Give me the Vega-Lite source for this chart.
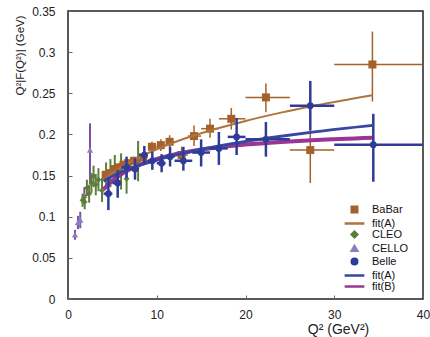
{
  "$schema": "https://vega.github.io/schema/vega-lite/v6.json",
  "width": 355,
  "height": 288,
  "autosize": "none",
  "padding": {"left": 68, "top": 11, "right": 7, "bottom": 38},
  "background": "white",
  "config": {
    "view": {"stroke": "#222", "strokeWidth": 1.5},
    "axis": {
      "domain": false, "grid": false, "tickSize": -4, "tickColor": "#666", "tickWidth": 1,
      "labelFont": "Liberation Sans", "labelFontSize": 12, "labelColor": "#222",
      "titleFont": "Liberation Sans", "titleFontWeight": "normal", "titleColor": "#222"
    },
    "legend": {
      "labelFont": "Liberation Sans", "labelFontSize": 11, "labelColor": "#111",
      "labelOffset": 12, "rowPadding": -4, "padding": 0, "symbolSize": 30, "symbolStrokeWidth": 2.5
    }
  },
  "datasets": {
    "babar": [
      {"series": "BaBar", "x": 4.24, "y": 0.151, "xlo": 4.0, "xhi": 4.5, "ylo": 0.147, "yhi": 0.155},
      {"series": "BaBar", "x": 4.74, "y": 0.153, "xlo": 4.5, "xhi": 5.0, "ylo": 0.149, "yhi": 0.157},
      {"series": "BaBar", "x": 5.24, "y": 0.158, "xlo": 5.0, "xhi": 5.5, "ylo": 0.154, "yhi": 0.162},
      {"series": "BaBar", "x": 5.74, "y": 0.160, "xlo": 5.5, "xhi": 6.0, "ylo": 0.155, "yhi": 0.165},
      {"series": "BaBar", "x": 6.24, "y": 0.163, "xlo": 6.0, "xhi": 6.5, "ylo": 0.158, "yhi": 0.168},
      {"series": "BaBar", "x": 6.74, "y": 0.165, "xlo": 6.5, "xhi": 7.0, "ylo": 0.160, "yhi": 0.170},
      {"series": "BaBar", "x": 7.45, "y": 0.168, "xlo": 7.0, "xhi": 8.0, "ylo": 0.163, "yhi": 0.173},
      {"series": "BaBar", "x": 8.46, "y": 0.172, "xlo": 8.0, "xhi": 9.0, "ylo": 0.166, "yhi": 0.178},
      {"series": "BaBar", "x": 9.46, "y": 0.185, "xlo": 9.0, "xhi": 10.0, "ylo": 0.179, "yhi": 0.191},
      {"series": "BaBar", "x": 10.46, "y": 0.187, "xlo": 10.0, "xhi": 11.0, "ylo": 0.180, "yhi": 0.194},
      {"series": "BaBar", "x": 11.45, "y": 0.191, "xlo": 11.0, "xhi": 12.0, "ylo": 0.183, "yhi": 0.199},
      {"series": "BaBar", "x": 12.8, "y": 0.175, "xlo": 12.0, "xhi": 13.5, "ylo": 0.165, "yhi": 0.185},
      {"series": "BaBar", "x": 14.2, "y": 0.198, "xlo": 13.5, "xhi": 15.0, "ylo": 0.186, "yhi": 0.211},
      {"series": "BaBar", "x": 16.0, "y": 0.207, "xlo": 15.0, "xhi": 17.0, "ylo": 0.196, "yhi": 0.219},
      {"series": "BaBar", "x": 18.4, "y": 0.219, "xlo": 17.0, "xhi": 20.0, "ylo": 0.206, "yhi": 0.232},
      {"series": "BaBar", "x": 22.3, "y": 0.245, "xlo": 20.0, "xhi": 25.0, "ylo": 0.227, "yhi": 0.262},
      {"series": "BaBar", "x": 27.3, "y": 0.181, "xlo": 25.0, "xhi": 30.0, "ylo": 0.141, "yhi": 0.221},
      {"series": "BaBar", "x": 34.3, "y": 0.285, "xlo": 30.0, "xhi": 39.9, "ylo": 0.240, "yhi": 0.325}
    ],
    "belle": [
      {"series": "Belle", "x": 4.55, "y": 0.128, "xlo": 4.0, "xhi": 5.0, "ylo": 0.108, "yhi": 0.147},
      {"series": "Belle", "x": 5.6, "y": 0.141, "xlo": 5.0, "xhi": 6.0, "ylo": 0.123, "yhi": 0.157},
      {"series": "Belle", "x": 6.6, "y": 0.160, "xlo": 6.0, "xhi": 7.0, "ylo": 0.147, "yhi": 0.173},
      {"series": "Belle", "x": 7.55, "y": 0.158, "xlo": 7.0, "xhi": 8.0, "ylo": 0.145, "yhi": 0.171},
      {"series": "Belle", "x": 8.6, "y": 0.175, "xlo": 8.0, "xhi": 9.0, "ylo": 0.164, "yhi": 0.186},
      {"series": "Belle", "x": 9.5, "y": 0.168, "xlo": 9.0, "xhi": 10.0, "ylo": 0.157, "yhi": 0.179},
      {"series": "Belle", "x": 10.55, "y": 0.165, "xlo": 10.0, "xhi": 11.0, "ylo": 0.154, "yhi": 0.176},
      {"series": "Belle", "x": 11.5, "y": 0.173, "xlo": 11.0, "xhi": 12.0, "ylo": 0.161, "yhi": 0.185},
      {"series": "Belle", "x": 13.0, "y": 0.168, "xlo": 12.0, "xhi": 14.0, "ylo": 0.156, "yhi": 0.185},
      {"series": "Belle", "x": 15.0, "y": 0.178, "xlo": 14.0, "xhi": 16.0, "ylo": 0.161, "yhi": 0.194},
      {"series": "Belle", "x": 17.0, "y": 0.183, "xlo": 16.0, "xhi": 18.0, "ylo": 0.163, "yhi": 0.203},
      {"series": "Belle", "x": 19.0, "y": 0.197, "xlo": 18.0, "xhi": 20.0, "ylo": 0.175, "yhi": 0.220},
      {"series": "Belle", "x": 22.3, "y": 0.194, "xlo": 20.0, "xhi": 25.0, "ylo": 0.173, "yhi": 0.215},
      {"series": "Belle", "x": 27.3, "y": 0.235, "xlo": 25.0, "xhi": 30.0, "ylo": 0.205, "yhi": 0.265},
      {"series": "Belle", "x": 34.4, "y": 0.1875, "xlo": 30.0, "xhi": 40.0, "ylo": 0.1425, "yhi": 0.225}
    ],
    "cleo": [
      {"series": "CLEO", "x": 1.64, "y": 0.120, "ylo": 0.112, "yhi": 0.128},
      {"series": "CLEO", "x": 1.88, "y": 0.118, "ylo": 0.109, "yhi": 0.127},
      {"series": "CLEO", "x": 2.13, "y": 0.135, "ylo": 0.125, "yhi": 0.145},
      {"series": "CLEO", "x": 2.38, "y": 0.128, "ylo": 0.117, "yhi": 0.139},
      {"series": "CLEO", "x": 2.64, "y": 0.141, "ylo": 0.129, "yhi": 0.153},
      {"series": "CLEO", "x": 2.88, "y": 0.149, "ylo": 0.136, "yhi": 0.162},
      {"series": "CLEO", "x": 3.13, "y": 0.139, "ylo": 0.126, "yhi": 0.152},
      {"series": "CLEO", "x": 3.43, "y": 0.145, "ylo": 0.131, "yhi": 0.159},
      {"series": "CLEO", "x": 3.83, "y": 0.132, "ylo": 0.118, "yhi": 0.147},
      {"series": "CLEO", "x": 4.29, "y": 0.150, "ylo": 0.134, "yhi": 0.166},
      {"series": "CLEO", "x": 4.78, "y": 0.153, "ylo": 0.136, "yhi": 0.170},
      {"series": "CLEO", "x": 5.27, "y": 0.157, "ylo": 0.139, "yhi": 0.175},
      {"series": "CLEO", "x": 5.98, "y": 0.155, "ylo": 0.133, "yhi": 0.177},
      {"series": "CLEO", "x": 6.6, "y": 0.146, "ylo": 0.128, "yhi": 0.164},
      {"series": "CLEO", "x": 7.9, "y": 0.167, "ylo": 0.143, "yhi": 0.192}
    ],
    "cello": [
      {"series": "CELLO", "x": 0.79, "y": 0.078, "ylo": 0.072, "yhi": 0.084},
      {"series": "CELLO", "x": 1.12, "y": 0.093, "ylo": 0.085, "yhi": 0.101},
      {"series": "CELLO", "x": 1.38, "y": 0.096, "ylo": 0.086, "yhi": 0.106},
      {"series": "CELLO", "x": 1.84, "y": 0.126, "ylo": 0.116, "yhi": 0.136},
      {"series": "CELLO", "x": 2.48, "y": 0.181, "ylo": 0.141, "yhi": 0.2135}
    ],
    "fits": [
      {"series": "BaBar fit(A)", "x": 4, "y": 0.1447},
      {"series": "BaBar fit(A)", "x": 5, "y": 0.1530},
      {"series": "BaBar fit(A)", "x": 6, "y": 0.1602},
      {"series": "BaBar fit(A)", "x": 7, "y": 0.1665},
      {"series": "BaBar fit(A)", "x": 8, "y": 0.1721},
      {"series": "BaBar fit(A)", "x": 10, "y": 0.1820},
      {"series": "BaBar fit(A)", "x": 12, "y": 0.1905},
      {"series": "BaBar fit(A)", "x": 14, "y": 0.1980},
      {"series": "BaBar fit(A)", "x": 17, "y": 0.2078},
      {"series": "BaBar fit(A)", "x": 20, "y": 0.2164},
      {"series": "BaBar fit(A)", "x": 24, "y": 0.2265},
      {"series": "BaBar fit(A)", "x": 28, "y": 0.2354},
      {"series": "BaBar fit(A)", "x": 34.3, "y": 0.2477},
      {"series": "Belle fit(A)", "x": 4, "y": 0.1433},
      {"series": "Belle fit(A)", "x": 5, "y": 0.1492},
      {"series": "Belle fit(A)", "x": 6, "y": 0.1542},
      {"series": "Belle fit(A)", "x": 7, "y": 0.1585},
      {"series": "Belle fit(A)", "x": 8, "y": 0.1623},
      {"series": "Belle fit(A)", "x": 10, "y": 0.1690},
      {"series": "Belle fit(A)", "x": 12, "y": 0.1746},
      {"series": "Belle fit(A)", "x": 14, "y": 0.1795},
      {"series": "Belle fit(A)", "x": 17, "y": 0.1859},
      {"series": "Belle fit(A)", "x": 20, "y": 0.1915},
      {"series": "Belle fit(A)", "x": 24, "y": 0.1978},
      {"series": "Belle fit(A)", "x": 28, "y": 0.2034},
      {"series": "Belle fit(A)", "x": 34.3, "y": 0.2110},
      {"series": "Belle fit(B)", "x": 4, "y": 0.1333},
      {"series": "Belle fit(B)", "x": 5, "y": 0.1437},
      {"series": "Belle fit(B)", "x": 6, "y": 0.1516},
      {"series": "Belle fit(B)", "x": 7, "y": 0.1578},
      {"series": "Belle fit(B)", "x": 8, "y": 0.1628},
      {"series": "Belle fit(B)", "x": 10, "y": 0.1703},
      {"series": "Belle fit(B)", "x": 12, "y": 0.1758},
      {"series": "Belle fit(B)", "x": 14, "y": 0.1798},
      {"series": "Belle fit(B)", "x": 17, "y": 0.1844},
      {"series": "Belle fit(B)", "x": 20, "y": 0.1877},
      {"series": "Belle fit(B)", "x": 24, "y": 0.1909},
      {"series": "Belle fit(B)", "x": 28, "y": 0.1933},
      {"series": "Belle fit(B)", "x": 34.3, "y": 0.1960}
    ]
  },
  "layer": [
    {
      "data": {"name": "cello"},
      "mark": {"type": "rule", "color": "#7E4FA6", "strokeWidth": 2},
      "encoding": {
        "x": {"field": "x", "type": "quantitative", "scale": {"domain": [0, 40], "nice": false},
              "axis": {"values": [0, 10, 20, 30, 40], "labelPadding": 14, "labelFlush": false,
                       "title": "Q² (GeV²)", "titleFontSize": 14, "titleX": 270, "titleY": 34,
                       "titleAlign": "center", "titleBaseline": "alphabetic"}},
        "y": {"field": "ylo", "type": "quantitative", "scale": {"domain": [0, 0.35], "nice": false},
              "axis": {"values": [0, 0.05, 0.1, 0.15, 0.2, 0.25, 0.3, 0.35], "format": "~g",
                       "labelPadding": 17, "title": "Q²|F(Q²)| (GeV)", "titleFontSize": 11.5,
                       "titleX": -48, "titleY": 44, "titleAngle": -90, "titleAlign": "center",
                       "titleBaseline": "middle"}},
        "y2": {"field": "yhi"}
      }
    },
    {
      "mark": {"type": "rule", "strokeDash": [5, 3], "color": "#111", "strokeWidth": 1.2},
      "encoding": {"y": {"datum": 0.185, "type": "quantitative"}}
    },
    {
      "data": {"name": "cello"},
      "mark": {"type": "point", "filled": true, "opacity": 1, "size": 40},
      "encoding": {
        "x": {"field": "x", "type": "quantitative"},
        "y": {"field": "y", "type": "quantitative"},
        "color": {"field": "series", "type": "nominal",
                  "scale": {"domain": ["BaBar", "BaBar fit(A)", "CLEO", "CELLO", "Belle", "Belle fit(A)", "Belle fit(B)"],
                            "range": ["#A4622A", "#AD7440", "#5C7C3C", "#8A80BE", "#2F3C97", "#3946A2", "#9C3493"]},
                  "legend": {"title": null, "orient": "none", "legendX": 281, "legendY": 193,
                             "labelExpr": "replace(replace(datum.label, 'BaBar fit', 'fit'), 'Belle fit', 'fit')"}},
        "shape": {"field": "series", "type": "nominal",
                  "scale": {"domain": ["BaBar", "BaBar fit(A)", "CLEO", "CELLO", "Belle", "Belle fit(A)", "Belle fit(B)"],
                            "range": ["square", "M-3.6,0H3.6", "diamond", "triangle-up", "circle", "M-3.6,0H3.6", "M-3.6,0H3.6"]}}
      }
    },
    {
      "data": {"name": "cleo"},
      "mark": {"type": "rule", "color": "#5E7E3A", "strokeWidth": 2},
      "encoding": {
        "x": {"field": "x", "type": "quantitative"},
        "y": {"field": "ylo", "type": "quantitative"},
        "y2": {"field": "yhi"}
      }
    },
    {
      "data": {"name": "cleo"},
      "mark": {"type": "point", "filled": true, "opacity": 1, "size": 35},
      "encoding": {
        "x": {"field": "x", "type": "quantitative"},
        "y": {"field": "y", "type": "quantitative"},
        "color": {"field": "series", "type": "nominal"},
        "shape": {"field": "series", "type": "nominal"}
      }
    },
    {
      "data": {"name": "babar"},
      "mark": {"type": "rule", "color": "#A4622A", "strokeWidth": 1.5},
      "encoding": {
        "x": {"field": "xlo", "type": "quantitative"},
        "x2": {"field": "xhi"},
        "y": {"field": "y", "type": "quantitative"}
      }
    },
    {
      "data": {"name": "babar"},
      "mark": {"type": "rule", "color": "#A4622A", "strokeWidth": 1.5},
      "encoding": {
        "x": {"field": "x", "type": "quantitative"},
        "y": {"field": "ylo", "type": "quantitative"},
        "y2": {"field": "yhi"}
      }
    },
    {
      "data": {"name": "babar"},
      "mark": {"type": "point", "filled": true, "opacity": 1, "size": 64},
      "encoding": {
        "x": {"field": "x", "type": "quantitative"},
        "y": {"field": "y", "type": "quantitative"},
        "color": {"field": "series", "type": "nominal"},
        "shape": {"field": "series", "type": "nominal"}
      }
    },
    {
      "data": {"name": "fits"},
      "transform": [{"filter": "datum.series === 'BaBar fit(A)'"}],
      "mark": {"type": "line", "interpolate": "monotone", "strokeWidth": 2},
      "encoding": {
        "x": {"field": "x", "type": "quantitative"},
        "y": {"field": "y", "type": "quantitative"},
        "color": {"field": "series", "type": "nominal"}
      }
    },
    {
      "data": {"name": "fits"},
      "transform": [{"filter": "datum.series === 'Belle fit(B)'"}],
      "mark": {"type": "line", "interpolate": "monotone", "strokeWidth": 4},
      "encoding": {
        "x": {"field": "x", "type": "quantitative"},
        "y": {"field": "y", "type": "quantitative"},
        "color": {"field": "series", "type": "nominal"}
      }
    },
    {
      "data": {"name": "fits"},
      "transform": [{"filter": "datum.series === 'Belle fit(A)'"}],
      "mark": {"type": "line", "interpolate": "monotone", "strokeWidth": 3},
      "encoding": {
        "x": {"field": "x", "type": "quantitative"},
        "y": {"field": "y", "type": "quantitative"},
        "color": {"field": "series", "type": "nominal"}
      }
    },
    {
      "data": {"name": "belle"},
      "mark": {"type": "rule", "color": "#2F3C97", "strokeWidth": 2.5},
      "encoding": {
        "x": {"field": "xlo", "type": "quantitative"},
        "x2": {"field": "xhi"},
        "y": {"field": "y", "type": "quantitative"}
      }
    },
    {
      "data": {"name": "belle"},
      "mark": {"type": "rule", "color": "#2F3C97", "strokeWidth": 2.5},
      "encoding": {
        "x": {"field": "x", "type": "quantitative"},
        "y": {"field": "ylo", "type": "quantitative"},
        "y2": {"field": "yhi"}
      }
    },
    {
      "data": {"name": "belle"},
      "mark": {"type": "point", "filled": true, "opacity": 1, "size": 45},
      "encoding": {
        "x": {"field": "x", "type": "quantitative"},
        "y": {"field": "y", "type": "quantitative"},
        "color": {"field": "series", "type": "nominal"},
        "shape": {"field": "series", "type": "nominal"}
      }
    }
  ]
}
